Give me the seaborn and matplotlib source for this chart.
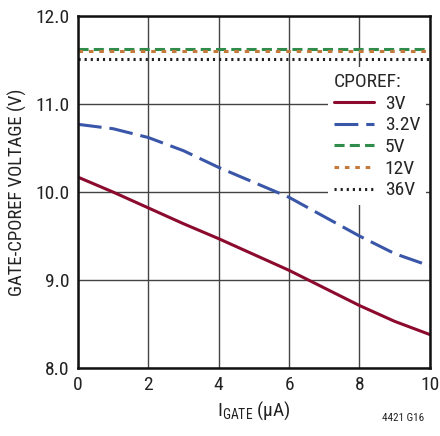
import matplotlib
matplotlib.use("Agg")
import matplotlib.pyplot as plt
import seaborn as sns
import pandas as pd
from matplotlib.lines import Line2D

# Data
igate = [0, 1, 2, 3, 4, 5, 6, 7, 8, 9, 10]
v_3v = [10.17, 10.00, 9.82, 9.64, 9.47, 9.29, 9.11, 8.91, 8.71, 8.53, 8.38]
v_3p2v = [10.77, 10.72, 10.62, 10.47, 10.28, 10.11, 9.94, 9.72, 9.50, 9.30, 9.16]
v_5v = [11.625] * 11
v_12v = [11.60] * 11
v_36v = [11.51] * 11

series_names = ["3V", "3.2V", "5V", "12V", "36V"]
series_vals = [v_3v, v_3p2v, v_5v, v_12v, v_36v]
x_ticks = [0, 2, 4, 6, 8, 10]
y_ticks = [8.0, 9.0, 10.0, 11.0, 12.0]
y_ticklabels = ["8.0", "9.0", "10.0", "11.0", "12.0"]

rows = []
for name, vals in zip(series_names, series_vals):
    for x, y in zip(igate, vals):
        rows.append({"I": x, "V": y, "CPOREF": name})
df = pd.DataFrame(rows)

sns.set_style("white")
FAM = ["Roboto Condensed", "Archivo Narrow", "PT Sans Narrow", "DejaVu Sans"]
plt.rcParams["font.family"] = FAM
plt.rcParams["mathtext.fontset"] = "custom"
plt.rcParams["mathtext.rm"] = "Roboto Condensed"

palette = {"3V": "#8B0A2E", "3.2V": "#3A56A8", "5V": "#2F8C4A",
           "12V": "#C47A3C", "36V": "#222222"}
dashes = {"3V": "", "3.2V": (7.8, 2.6), "5V": (3.3, 1.7), "12V": (1.5, 1.9), "36V": (0.7, 1.3)}
LW = 2.2
FS = 14

fig = plt.figure(figsize=(4.4, 4.36), dpi=100)
ax = fig.add_axes([0.177, 0.156, 0.8, 0.807])

sns.lineplot(data=df, x="I", y="V", hue="CPOREF", style="CPOREF",
             palette=palette, dashes=dashes, hue_order=series_names,
             style_order=series_names, linewidth=LW, ax=ax, legend=False)

ax.set_xlim(0, 10)
ax.set_ylim(8.0, 12.0)
ax.set_xticks(x_ticks)
ax.set_yticks(y_ticks)
ax.set_yticklabels(y_ticklabels)
ax.tick_params(axis="both", length=0, labelsize=FS, colors="#222222", pad=6)
ax.grid(True, color="#444444", linewidth=1.0)
for s in ax.spines.values():
    s.set_color("#111111")
    s.set_linewidth(1.8)

ax.set_xlabel(r"$\mathregular{I_{GATE}}$ (µA)", fontsize=FS, color="#222222", labelpad=4)
ax.set_ylabel("GATE-CPOREF VOLTAGE (V)", fontsize=13.5, color="#222222", labelpad=6)

handles = []
for name in series_names:
    ls = "-" if dashes[name] == "" else (0, dashes[name])
    handles.append(Line2D([0], [0], color=palette[name], linewidth=LW, linestyle=ls))
leg = ax.legend(handles, series_names, title="CPOREF:", loc="upper right",
                bbox_to_anchor=(1.0, 0.866), frameon=True, fontsize=FS,
                title_fontsize=FS, handlelength=2.05, handletextpad=0.55,
                labelspacing=0.19, borderpad=0.3, borderaxespad=0.2, fancybox=False)
leg.get_frame().set_facecolor("white")
leg.get_frame().set_edgecolor("none")
leg.get_frame().set_alpha(1.0)
leg._legend_box.align = "left"

fig.text(0.965, 0.035, "4421 G16", fontsize=8, ha="right", color="#222222")

fig.savefig("out.png", dpi=100)
